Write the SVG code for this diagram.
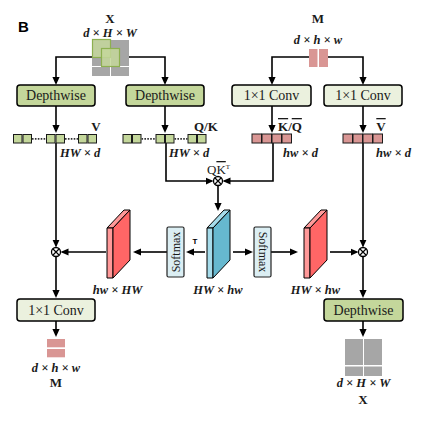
<svg xmlns="http://www.w3.org/2000/svg" width="430" height="422" viewBox="0 0 430 422">
<defs>
<marker id="ah" viewBox="0 0 8 8" markerWidth="8" markerHeight="8" refX="6" refY="4" orient="auto" markerUnits="userSpaceOnUse">
<path d="M0,0.4 L8,4 L0,7.6 z" fill="#000"/>
</marker>
<g id="slabR">
<polygon points="107,228 124,210 130,210 113,228" class="rl"/>
<polygon points="107,228 113,228 113,278 107,278" class="rl"/>
<polygon points="113,228 130,210 130,260 113,278" class="rf"/>
</g>
<g id="slabB">
<polygon points="107,228 124,210 130,210 113,228" class="bl"/>
<polygon points="107,228 113,228 113,278 107,278" class="bl"/>
<polygon points="113,228 130,210 130,260 113,278" class="bf"/>
</g>
<g id="otimes">
<circle r="4.5" fill="#fff" stroke="#000" stroke-width="1.3"/>
<path d="M-3,-3 L3,3 M-3,3 L3,-3" stroke="#000" stroke-width="1.2"/>
</g>
</defs>
<style>
.conn{fill:none;stroke:#000;stroke-width:1.6;marker-end:url(#ah)}
.dw{fill:#c4d79b;stroke:#000;stroke-width:1.5}
.cv{fill:#ebf1de;stroke:#000;stroke-width:1.5}
.sm{fill:#dbeef3;stroke:#222;stroke-width:1.2}
.gt{fill:#c4d79b;stroke:#1a1a1a;stroke-width:1}
.pt{fill:#d99694;stroke:#1a1a1a;stroke-width:1}
.dots{stroke:#333;stroke-width:1.8;stroke-dasharray:1.6 1.3}
.gray{fill:#a6a6a6}
.pink{fill:#d99694}
.box{font-family:"Liberation Serif",serif;font-size:14px;fill:#1a1a1a;text-anchor:middle}
.smt{font-family:"Liberation Serif",serif;font-size:12px;fill:#1a1a1a;text-anchor:middle;dominant-baseline:central}
.math{font-family:"Liberation Serif",serif;font-size:12.5px;font-style:italic;font-weight:bold;fill:#1a1a1a}
.lbl{font-family:"Liberation Serif",serif;font-size:13px;font-weight:bold;fill:#1a1a1a}
.rl{fill:#ff9999;stroke:#000;stroke-width:1;stroke-linejoin:round}
.rf{fill:#ff6666;stroke:#000;stroke-width:1;stroke-linejoin:round}
.bl{fill:#a6dceb;stroke:#000;stroke-width:1;stroke-linejoin:round}
.bf{fill:#66b8cf;stroke:#000;stroke-width:1;stroke-linejoin:round}
</style>
<rect width="430" height="422" fill="#fff"/>
<text x="18" y="32" font-family="Liberation Sans,sans-serif" font-size="15" font-weight="bold">B</text>

<g id="connectors">
<path class="conn" d="M92,57 H56 V83"/>
<path class="conn" d="M129,57 H165 V83"/>
<path class="conn" d="M56,106 V131"/>
<path class="conn" d="M165,106 V131"/>
<path class="conn" d="M309,57 H272 V83"/>
<path class="conn" d="M328,57 H363 V83"/>
<path class="conn" d="M272,106 V131"/>
<path class="conn" d="M363,106 V131"/>
<path class="conn" d="M56,143 V245.5"/>
<path class="conn" d="M166,143 V181 H211.5"/>
<path class="conn" d="M273,143 V181 H224.5"/>
<path class="conn" d="M363,143 V245.5"/>
<path class="conn" d="M218,185.5 V209"/>
<path class="conn" d="M205,252 H188"/>
<path class="conn" d="M167,252 H135"/>
<path class="conn" d="M106,252 H62.5"/>
<path class="conn" d="M56,256.5 V296"/>
<path class="conn" d="M56,321 V335"/>
<path class="conn" d="M233,252 H251"/>
<path class="conn" d="M271,252 H296"/>
<path class="conn" d="M330,252 H356.5"/>
<path class="conn" d="M363,256.5 V296"/>
<path class="conn" d="M363,321 V335"/>
</g>

<g id="X-in">
<text class="lbl" x="110" y="23" text-anchor="middle">X</text>
<text class="math" x="110" y="37" text-anchor="middle">d × H × W</text>
<rect class="gray" x="92" y="40" width="18" height="26"/>
<rect class="gray" x="111" y="40" width="18" height="26"/>
<rect class="gray" x="92" y="67" width="18" height="9"/>
<rect class="gray" x="111" y="67" width="18" height="9"/>
<rect x="92.5" y="39.5" width="18" height="18" fill="#c4d79b" fill-opacity="0.85" stroke="#8db050" stroke-width="1.2"/>
<rect x="101.5" y="48.5" width="18" height="18" fill="#c4d79b" fill-opacity="0.85" stroke="#8db050" stroke-width="1.2"/>
</g>

<g id="M-in">
<text class="lbl" x="318" y="23" text-anchor="middle">M</text>
<text class="math" x="318" y="44" text-anchor="middle">d × h × w</text>
<rect class="pink" x="309" y="49" width="8.5" height="18"/>
<rect class="pink" x="319" y="49" width="9" height="18"/>
</g>

<g id="dw1"><rect class="dw" x="17" y="85" width="78" height="21" rx="3"/><text class="box" x="56" y="100">Depthwise</text></g>
<g id="dw2"><rect class="dw" x="126" y="85" width="78" height="21" rx="3"/><text class="box" x="165" y="100">Depthwise</text></g>
<g id="cv1"><rect class="cv" x="232" y="85" width="79" height="21" rx="3"/><text class="box" x="271.5" y="100">1×1 Conv</text></g>
<g id="cv2"><rect class="cv" x="324" y="85" width="78" height="21" rx="3"/><text class="box" x="363" y="100">1×1 Conv</text></g>

<g id="tokV">
<rect class="gt" x="13.5" y="134.5" width="8.5" height="8.5"/><rect class="gt" x="23" y="134.5" width="8.5" height="8.5"/>
<line class="dots" x1="32" y1="138.8" x2="46" y2="138.8"/>
<rect class="gt" x="46.5" y="134.5" width="8.5" height="8.5"/><rect class="gt" x="56" y="134.5" width="8.5" height="8.5"/>
<line class="dots" x1="65" y1="138.8" x2="78" y2="138.8"/>
<rect class="gt" x="78.5" y="134.5" width="8.5" height="8.5"/><rect class="gt" x="88" y="134.5" width="8.5" height="8.5"/>
<text class="lbl" x="96" y="131" text-anchor="middle">V</text>
<text class="math" x="60" y="157">HW × d</text>
</g>

<g id="tokQK">
<rect class="gt" x="123" y="134.5" width="8.5" height="8.5"/><rect class="gt" x="132.5" y="134.5" width="8.5" height="8.5"/>
<line class="dots" x1="141.5" y1="138.8" x2="155.5" y2="138.8"/>
<rect class="gt" x="156" y="134.5" width="8.5" height="8.5"/><rect class="gt" x="165.5" y="134.5" width="8.5" height="8.5"/>
<line class="dots" x1="174.5" y1="138.8" x2="187.5" y2="138.8"/>
<rect class="gt" x="188" y="134.5" width="8.5" height="8.5"/><rect class="gt" x="197.5" y="134.5" width="8.5" height="8.5"/>
<text class="lbl" x="194" y="131">Q/K</text>
<text class="math" x="169" y="157">HW × d</text>
</g>

<g id="tokKQbar">
<rect class="pt" x="252" y="134" width="9.5" height="9"/><rect class="pt" x="262" y="134" width="9.5" height="9"/>
<rect class="pt" x="272" y="134" width="9.5" height="9"/><rect class="pt" x="282" y="134" width="9.5" height="9"/>
<text class="lbl" x="278" y="131"><tspan text-decoration="overline">K</tspan>/<tspan text-decoration="overline">Q</tspan></text>
<text class="math" x="283" y="157">hw × d</text>
</g>

<g id="tokVbar">
<rect class="pt" x="343" y="134" width="9.5" height="9"/><rect class="pt" x="353" y="134" width="9.5" height="9"/>
<rect class="pt" x="363" y="134" width="9.5" height="9"/><rect class="pt" x="373" y="134" width="9.5" height="9"/>
<text class="lbl" x="381" y="131" text-anchor="middle"><tspan text-decoration="overline">V</tspan></text>
<text class="math" x="376" y="157">hw × d</text>
</g>

<g id="mul-qk">
<use href="#otimes" x="218" y="181"/>
<text x="207" y="174" font-family="Liberation Serif,serif" font-size="13" fill="#1a1a1a">Q<tspan text-decoration="overline">K</tspan><tspan font-size="7" dy="-5">T</tspan></text>
</g>

<g id="attn">
<use href="#slabB" x="100"/>
<text class="math" x="218" y="294" text-anchor="middle">HW × hw</text>
</g>

<g id="softmax1">
<rect class="sm" x="167" y="227" width="17" height="50" rx="1.5"/>
<text class="smt" transform="translate(175.5,252) rotate(-90)">Softmax</text>
<text x="195" y="244" font-family="Liberation Sans,sans-serif" font-size="8" font-weight="bold" text-anchor="middle">T</text>
</g>
<g id="softmax2">
<rect class="sm" x="254" y="227" width="17" height="50" rx="1.5"/>
<text class="smt" transform="translate(262.5,252) rotate(90)">Softmax</text>
</g>

<g id="attn-left">
<use href="#slabR"/>
<text class="math" x="117.5" y="294" text-anchor="middle">hw × HW</text>
</g>
<g id="attn-right">
<use href="#slabR" x="197"/>
<text class="math" x="315.5" y="294" text-anchor="middle">HW × hw</text>
</g>

<g id="mul-left"><use href="#otimes" x="56" y="252"/></g>
<g id="mul-right"><use href="#otimes" x="363" y="252"/></g>

<g id="cv3"><rect class="cv" x="17" y="299" width="78" height="22" rx="3"/><text class="box" x="56" y="315">1×1 Conv</text></g>
<g id="dw3"><rect class="dw" x="324" y="299" width="79" height="22" rx="3"/><text class="box" x="363.5" y="315">Depthwise</text></g>

<g id="M-out">
<rect class="pink" x="47" y="339" width="18" height="8.3"/>
<rect class="pink" x="47" y="349" width="18" height="8.3"/>
<text class="math" x="56" y="372" text-anchor="middle">d × h × w</text>
<text class="lbl" x="56" y="387" text-anchor="middle">M</text>
</g>

<g id="X-out">
<rect class="gray" x="345" y="339" width="18" height="26"/>
<rect class="gray" x="364" y="339" width="18" height="26"/>
<rect class="gray" x="345" y="366.5" width="18" height="9.5"/>
<rect class="gray" x="364" y="366.5" width="18" height="9.5"/>
<text class="math" x="363.5" y="387" text-anchor="middle">d × H × W</text>
<text class="lbl" x="363" y="404" text-anchor="middle">X</text>
</g>
</svg>
